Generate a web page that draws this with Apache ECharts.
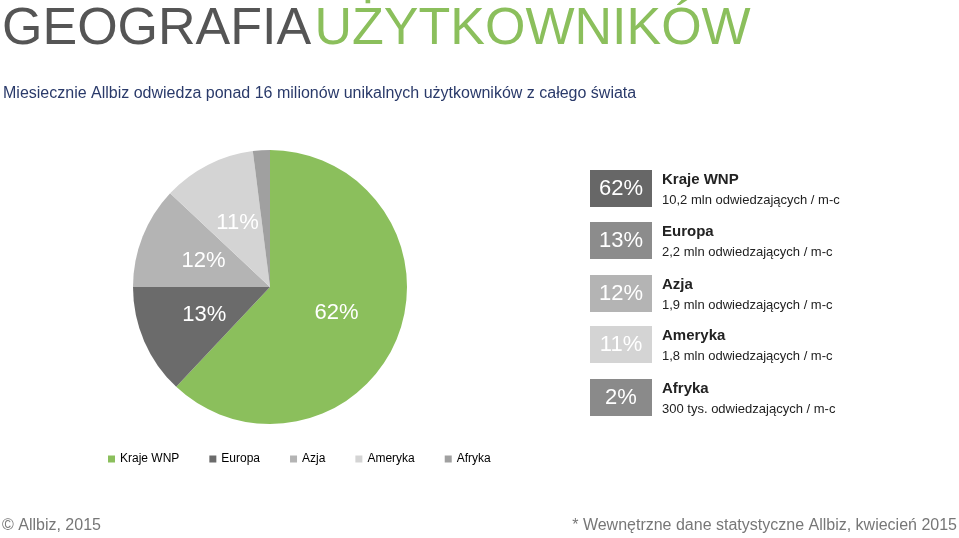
<!DOCTYPE html>
<html><head><meta charset="utf-8">
<script src="https://cdn.jsdelivr.net/npm/echarts@6/dist/echarts.min.js"></script>
<style>html,body{margin:0;padding:0;background:#fff}#c{width:959px;height:538px}</style>
</head><body><div id="c"></div>
<script>
const categories = ['Kraje WNP','Europa','Azja','Ameryka','Afryka'];
const values = [62,13,12,11,2];
const details = ['10,2 mln odwiedzających / m-c','2,2 mln odwiedzających / m-c','1,9 mln odwiedzających / m-c','1,8 mln odwiedzających / m-c','300 tys. odwiedzających / m-c'];
const pieColors = ['#8bbf5c','#6b6b6b','#b4b4b4','#d4d4d4','#a0a0a0'];
const boxColors = ['#676767','#8c8c8c','#b4b4b4','#d4d4d4','#8a8a8a'];
const rowTops = [170,222,275,326,379];

const F = 'Liberation Sans, Arial, sans-serif';
const graphic = [
  {type:'text',left:2,top:4,style:{text:'{a|GEOGRAFIA} {b|UŻYTKOWNIKÓW}',rich:{a:{fill:'#555555',fontSize:52,fontFamily:F},b:{fill:'#8bbf5c',fontSize:52,fontFamily:F}}}},
  {type:'text',left:3,top:86,style:{text:'Miesiecznie Allbiz odwiedza ponad 16 milionów unikalnych użytkowników z całego świata',fill:'#2a3a6a',fontSize:16,fontFamily:F}},
  {type:'text',left:2,top:518,style:{text:'© Allbiz, 2015',fill:'#777',fontSize:16,fontFamily:F}},
  {type:'text',right:2,top:518,style:{text:'* Wewnętrzne dane statystyczne Allbiz, kwiecień 2015',fill:'#777',fontSize:16,fontFamily:F}}
];
categories.forEach((c,i)=>{
  const y=rowTops[i];
  graphic.push({type:'rect',shape:{x:590,y:y,width:62,height:37},style:{fill:boxColors[i]}});
  graphic.push({type:'text',x:621,y:y+19,style:{text:values[i]+'%',fill:'#fff',fontSize:22,fontFamily:F,align:'center',verticalAlign:'middle'}});
  graphic.push({type:'text',x:662,y:y+2,style:{text:c,fill:'#222',fontSize:15,fontWeight:'bold',fontFamily:F}});
  graphic.push({type:'text',x:662,y:y+24,style:{text:details[i],fill:'#222',fontSize:13,fontFamily:F}});
});

const chart = echarts.init(document.getElementById('c'));
chart.setOption({
  animation:false,
  color:pieColors,
  graphic:graphic,
  legend:{left:103,top:448,itemWidth:7,itemHeight:7,itemGap:30,icon:'rect',textStyle:{fontSize:12,color:'#000',fontFamily:F},data:categories},
  series:[{type:'pie',center:[270,287],radius:137,startAngle:90,clockwise:true,
    label:{position:'inside',color:'#fff',fontSize:22,fontFamily:F,formatter:p=>p.value>=5?p.value+'%':''},
    labelLine:{show:false},
    data:categories.map((c,i)=>({name:c,value:values[i]}))}]
});
</script></body></html>
